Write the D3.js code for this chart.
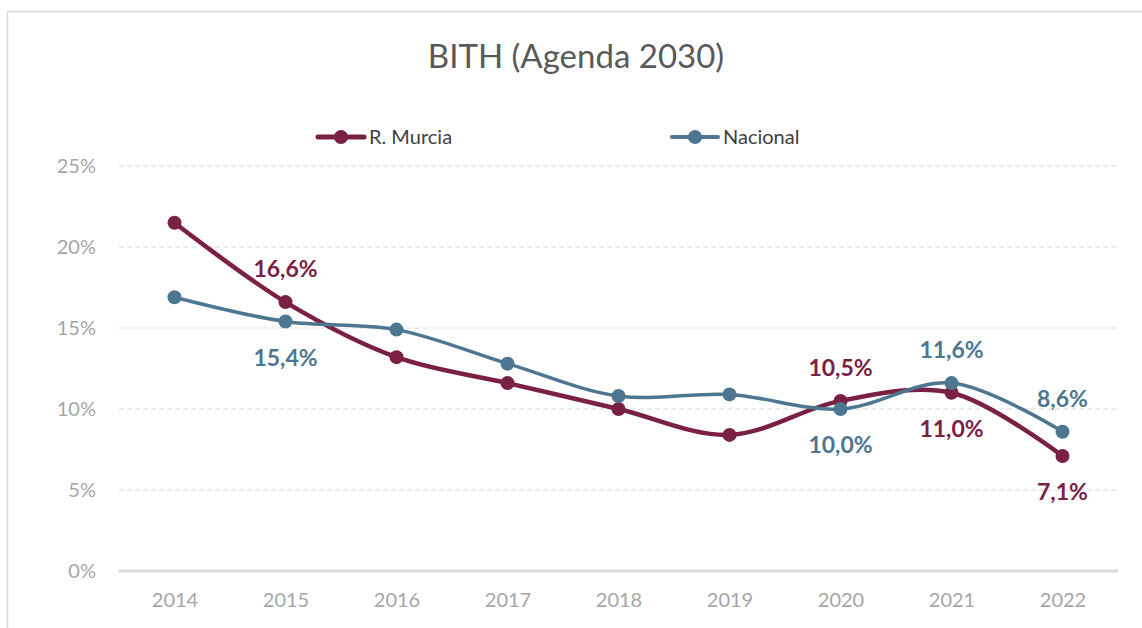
<!DOCTYPE html>
<html>
<head>
<meta charset="utf-8">
<script src="https://cdn.jsdelivr.net/npm/d3@7"></script>
<style>
  body { margin: 0; background: #fff; }
  svg { display: block; font-family: Lato, "Open Sans", sans-serif; }
</style>
</head>
<body>
<svg id="chart" width="1142" height="628"></svg>
<script>
const years = ['2014', '2015', '2016', '2017', '2018', '2019', '2020', '2021', '2022'];
const murcia = [21.5, 16.6, 13.2, 11.6, 10.0, 8.4, 10.5, 11.0, 7.1];
const nacional = [16.9, 15.4, 14.9, 12.8, 10.8, 10.9, 10.0, 11.6, 8.6];
const yTicks = [0, 5, 10, 15, 20, 25];

// which points carry a value label, and where (above / below)
const murciaLabels = { '2015': 'above', '2020': 'above', '2021': 'below', '2022': 'below' };
const nacionalLabels = { '2015': 'below', '2020': 'below', '2021': 'above', '2022': 'above' };

const series = [
  { name: 'R. Murcia', values: murcia, color: '#7b2045', width: 4.5, labels: murciaLabels, legendX: 318 },
  { name: 'Nacional', values: nacional, color: '#4d7690', width: 3.5, labels: nacionalLabels, legendX: 672 }
];

const svg = d3.select('#chart');
const margin = { top: 166, right: 24, bottom: 57, left: 119 };
const W = 1142, H = 628;

// outer frame
svg.append('rect')
  .attr('x', 7.5).attr('y', 11.5)
  .attr('width', 1160).attr('height', 640)
  .attr('fill', 'none').attr('stroke', '#d9d9d9').attr('stroke-width', 1.5);

const x = d3.scalePoint()
  .domain(years)
  .range([margin.left, W - margin.right])
  .padding(0.5);

const y = d3.scaleLinear()
  .domain([0, 25])
  .range([H - margin.bottom, margin.top]);

// gridlines
svg.append('g')
  .selectAll('line')
  .data(yTicks.filter(t => t > 0))
  .join('line')
  .attr('x1', margin.left).attr('x2', W - margin.right)
  .attr('y1', d => y(d)).attr('y2', d => y(d))
  .attr('stroke', '#d9d9d9').attr('stroke-width', 1.2)
  .attr('stroke-dasharray', '5,3');

// y axis labels
const yAxis = svg.append('g')
  .attr('transform', `translate(${margin.left},0)`)
  .call(d3.axisLeft(y).tickValues(yTicks).tickSize(0).tickPadding(23).tickFormat(d => d + '%'));
yAxis.select('.domain').remove();
yAxis.selectAll('text')
  .attr('fill', '#a6a6a6').attr('font-size', '20px')
  .attr('font-family', 'Lato, "Open Sans", sans-serif');

// x axis
const xAxis = svg.append('g')
  .attr('transform', `translate(0,${y(0)})`)
  .call(d3.axisBottom(x).tickSize(0).tickPadding(22));
xAxis.select('.domain').remove();
xAxis.selectAll('text')
  .attr('fill', '#a6a6a6').attr('font-size', '20px')
  .attr('font-family', 'Lato, "Open Sans", sans-serif');

svg.append('line')
  .attr('x1', margin.left).attr('x2', W - margin.right)
  .attr('y1', y(0)).attr('y2', y(0))
  .attr('stroke', '#d9d9d9').attr('stroke-width', 3);

// title
svg.append('text')
  .attr('x', 576).attr('y', 68)
  .attr('text-anchor', 'middle')
  .attr('fill', '#595959').attr('font-size', '33px')
  .text('BITH (Agenda 2030)');

const line = d3.line()
  .x((d, i) => x(years[i]))
  .y(d => y(d))
  .curve(d3.curveCatmullRom.alpha(0.5));

series.forEach(s => {
  const g = svg.append('g');
  g.append('path')
    .datum(s.values)
    .attr('d', line)
    .attr('fill', 'none')
    .attr('stroke', s.color)
    .attr('stroke-width', s.width)
    .attr('stroke-linejoin', 'round');
  g.selectAll('circle')
    .data(s.values)
    .join('circle')
    .attr('cx', (d, i) => x(years[i]))
    .attr('cy', d => y(d))
    .attr('r', 7)
    .attr('fill', s.color);
});

series.forEach(s => {
  svg.append('g')
    .selectAll('text')
    .data(s.values.map((v, i) => ({ v, yr: years[i], pos: s.labels[years[i]] })).filter(d => d.pos))
    .join('text')
    .attr('x', d => x(d.yr))
    .attr('y', d => y(d.v) + (d.pos === 'above' ? -25 : 44))
    .attr('text-anchor', 'middle')
    .attr('fill', s.color)
    .attr('font-size', '23px')
    .attr('font-weight', 'bold')
    .text(d => d.v.toFixed(1).replace('.', ',') + '%');

  // legend
  const lg = svg.append('g').attr('transform', `translate(${s.legendX},137)`);
  lg.append('line')
    .attr('x1', 0).attr('x2', 46)
    .attr('stroke', s.color).attr('stroke-width', s.width + 0.5)
    .attr('stroke-linecap', 'round');
  lg.append('circle').attr('cx', 23).attr('r', 7).attr('fill', s.color);
  lg.append('text')
    .attr('x', 51).attr('y', 7)
    .attr('fill', '#404040').attr('font-size', '20px')
    .text(s.name);
});
</script>
</body>
</html>
